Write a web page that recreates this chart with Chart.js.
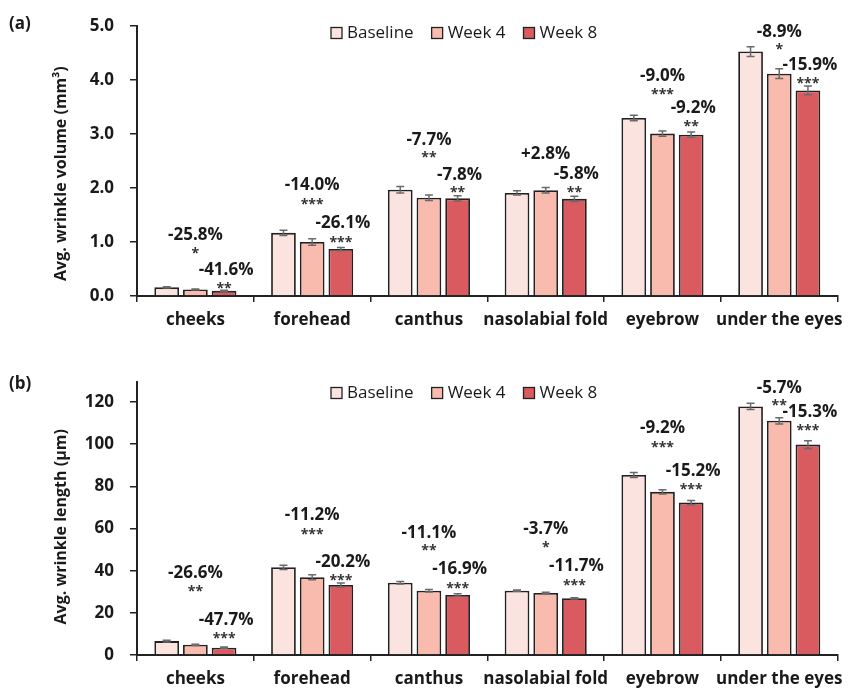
<!DOCTYPE html>
<html><head><meta charset="utf-8">
<script src="https://cdn.jsdelivr.net/npm/chart.js@4.4.1/dist/chart.umd.min.js"></script>
<style>
html,body{margin:0;padding:0;background:#fff;}
#wrap{position:relative;width:851px;height:688px;overflow:hidden;}
canvas{position:absolute;left:0;}
</style></head><body>
<div id="wrap">
<canvas id="ca" width="851" height="340" style="top:0"></canvas>
<canvas id="cb" width="851" height="348" style="top:340px"></canvas>
</div>
<script>
// ---------------- DATA ----------------
const categories = ['cheeks', 'forehead', 'canthus', 'nasolabial fold', 'eyebrow', 'under the eyes'];
const seriesNames = ['Baseline', 'Week 4', 'Week 8'];

// (a) wrinkle volume (mm3)
const volBaseline = [0.16, 1.17, 1.97, 1.91, 3.30, 4.53];
const volWeek4    = [0.12, 1.00, 1.82, 1.96, 3.01, 4.12];
const volWeek8    = [0.095, 0.87, 1.81, 1.80, 2.99, 3.81];
const volBaselineErr = [0.01, 0.05, 0.06, 0.04, 0.05, 0.09];
const volWeek4Err    = [0.01, 0.06, 0.05, 0.05, 0.05, 0.09];
const volWeek8Err    = [0.01, 0.03, 0.05, 0.05, 0.05, 0.08];
const volWeek4Pct  = ['-25.8%', '-14.0%', '-7.7%', '+2.8%', '-9.0%', '-8.9%'];
const volWeek4Sig  = ['*', '***', '**', '', '***', '*'];
const volWeek8Pct  = ['-41.6%', '-26.1%', '-7.8%', '-5.8%', '-9.2%', '-15.9%'];
const volWeek8Sig  = ['**', '***', '**', '**', '**', '***'];
const volTicks = [0, 1, 2, 3, 4, 5];

// (b) wrinkle length (um)
const lenBaseline = [6.6, 41.6, 34.3, 30.5, 85.4, 117.9];
const lenWeek4    = [4.85, 36.9, 30.5, 29.4, 77.4, 111.1];
const lenWeek8    = [3.45, 33.2, 28.5, 26.9, 72.3, 99.8];
const lenBaselineErr = [0.4, 1.0, 0.6, 0.3, 1.2, 1.5];
const lenWeek4Err    = [0.3, 1.2, 0.6, 0.4, 1.0, 1.5];
const lenWeek8Err    = [0.3, 1.0, 0.6, 0.3, 1.0, 1.8];
const lenWeek4Pct  = ['-26.6%', '-11.2%', '-11.1%', '-3.7%', '-9.2%', '-5.7%'];
const lenWeek4Sig  = ['**', '***', '**', '*', '***', '**'];
const lenWeek8Pct  = ['-47.7%', '-20.2%', '-16.9%', '-11.7%', '-15.2%', '-15.3%'];
const lenWeek8Sig  = ['***', '***', '***', '***', '***', '***'];
const lenTicks = [0, 20, 40, 60, 80, 100, 120];

// ---------------- STYLE / LAYOUT ----------------
const FONT = "'Open Sans', 'Noto Sans', sans-serif";
const TXT = '#1a1a1a';
const fills = ['#FBE4E0', '#F8BBAE', '#D95A5F'];

// pixel lifts of annotation texts above bar tops (label centre, stars centre)
const layoutA = {
  w4Label: [56, 58, 59, 37, 59, 43], w4Stars: [39, 41, 43, 0, 42, 27],
  w8Label: [22, 27, 24, 26, 28, 27], w8Stars: [6, 10, 9, 10, 11, 10]
};
const layoutB = {
  w4Label: [73, 63, 59, 65, 65, 34], w4Stars: [56, 46, 43, 49, 48, 18],
  w8Label: [29, 24, 27, 33, 33, 34], w8Stars: [12, 8, 10, 16, 16, 17]
};

function extrasPlugin(o) {
  return {
    id: 'extras',
    afterDatasetsDraw(chart) {
      const ctx = chart.ctx, ys = chart.scales.y;
      // error bars
      chart.data.datasets.forEach((ds, di) => {
        const meta = chart.getDatasetMeta(di);
        meta.data.forEach((bar, i) => {
          const v = ds.data[i], e = o.errors[di][i];
          const yt = ys.getPixelForValue(v + e), yb = ys.getPixelForValue(v - e);
          ctx.save();
          ctx.strokeStyle = '#6a6a6a'; ctx.lineWidth = 1.5;
          ctx.beginPath();
          ctx.moveTo(bar.x, yt); ctx.lineTo(bar.x, yb);
          ctx.moveTo(bar.x - 4, yt); ctx.lineTo(bar.x + 4, yt);
          ctx.moveTo(bar.x - 4, yb); ctx.lineTo(bar.x + 4, yb);
          ctx.stroke(); ctx.restore();
        });
      });
      // annotations
      const L = o.layout;
      const drawTxt = (t, x, yc, size, bold, color, k) => {
        if (!t) return;
        ctx.save();
        ctx.font = (bold ? 'bold ' : '') + size + 'px ' + FONT;
        ctx.fillStyle = color; ctx.textAlign = 'center'; ctx.textBaseline = 'alphabetic';
        ctx.fillText(t, x, yc + k * size);
        ctx.restore();
      };
      const m1 = chart.getDatasetMeta(1).data, m2 = chart.getDatasetMeta(2).data;
      categories.forEach((c, i) => {
        const b1 = m1[i], b2 = m2[i];
        drawTxt(o.w4Pct[i], b1.x, b1.y - L.w4Label[i], 17, true, TXT, 0.36);
        drawTxt(o.w4Sig[i], b1.x, b1.y - L.w4Stars[i], 14, true, '#333', 0.55);
        drawTxt(o.w8Pct[i], b2.x + 2, b2.y - L.w8Label[i], 17, true, TXT, 0.36);
        drawTxt(o.w8Sig[i], b2.x, b2.y - L.w8Stars[i], 14, true, '#333', 0.55);
      });
    },
    afterDraw(chart) {
      const ctx = chart.ctx;
      // legend
      ctx.save();
      ctx.font = '17px ' + FONT;
      ctx.textBaseline = 'middle'; ctx.textAlign = 'left';
      let x = 331; const yc = o.legendY;
      chart.data.datasets.forEach((ds, di) => {
        ctx.fillStyle = ds.backgroundColor;
        ctx.fillRect(x, yc - 5.5, 11, 11);
        ctx.strokeStyle = '#222'; ctx.lineWidth = 1.3;
        ctx.strokeRect(x, yc - 5.5, 11, 11);
        ctx.fillStyle = TXT;
        ctx.fillText(ds.label, x + 16, yc);
        x += 16 + ctx.measureText(ds.label).width + 18;
      });
      // panel tag
      ctx.font = 'bold 17px ' + FONT;
      ctx.fillText(o.tag, 9, o.tagY);
      ctx.restore();
    }
  };
}

function makeChart(id, o) {
  return new Chart(document.getElementById(id), {
    type: 'bar',
    data: {
      labels: categories,
      datasets: o.series.map((s, i) => ({
        label: seriesNames[i], data: s,
        backgroundColor: fills[i], borderColor: '#222', borderWidth: 1.8,
        borderSkipped: 'start',
        categoryPercentage: 0.737, barPercentage: 0.862
      }))
    },
    options: {
      responsive: false, animation: false, events: [],
      layout: { padding: { top: o.padTop, right: 6, left: 0, bottom: 0 } },
      plugins: { legend: { display: false }, tooltip: { enabled: false } },
      scales: {
        x: {
          grid: { display: true, offset: true, drawOnChartArea: false, drawTicks: true, tickLength: 6, color: '#222', lineWidth: 1.5 },
          border: { display: true, color: '#222', width: 2 },
          ticks: { font: { family: FONT, size: 17, weight: 'bold' }, color: TXT, padding: 8, maxRotation: 0, autoSkip: false },
          afterFit(s) { s.height = o.xHeight; }
        },
        y: {
          min: 0, max: o.max,
          grid: { display: true, drawOnChartArea: false, drawTicks: true, tickLength: 7, color: '#222', lineWidth: 1.5 },
          border: { display: true, color: '#222', width: 2 },
          ticks: {
            font: { family: FONT, size: 17, weight: 'bold' }, color: TXT, padding: 16,
            callback: o.fmt
          },
          afterBuildTicks(s) { s.ticks = o.ticks.map(v => ({ value: v })); },
          title: { display: true, text: o.title, font: { family: FONT, size: 16, weight: 'bold' }, color: TXT, padding: { top: 52, bottom: 0 } },
          afterFit(s) { s.width = 137; }
        }
      }
    },
    plugins: [extrasPlugin(o)]
  });
}

makeChart('ca', {
  series: [volBaseline, volWeek4, volWeek8],
  errors: [volBaselineErr, volWeek4Err, volWeek8Err],
  w4Pct: volWeek4Pct, w4Sig: volWeek4Sig, w8Pct: volWeek8Pct, w8Sig: volWeek8Sig,
  layout: layoutA, max: 5, ticks: volTicks, fmt: v => Number(v).toFixed(1),
  title: 'Avg. wrinkle volume (mm\u00B3)' + '\u00A0'.repeat(6),
  padTop: 22, xHeight: 44, legendY: 33, tag: '(a)', tagY: 24
});
makeChart('cb', {
  series: [lenBaseline, lenWeek4, lenWeek8],
  errors: [lenBaselineErr, lenWeek4Err, lenWeek8Err],
  w4Pct: lenWeek4Pct, w4Sig: lenWeek4Sig, w8Pct: lenWeek8Pct, w8Sig: lenWeek8Sig,
  layout: layoutB, max: 129.5, ticks: lenTicks, fmt: v => String(v),
  title: 'Avg. wrinkle length (\u03BCm)' + '\u00A0'.repeat(4),
  padTop: 42, xHeight: 33, legendY: 53, tag: '(b)', tagY: 44
});
</script>
</body></html>
